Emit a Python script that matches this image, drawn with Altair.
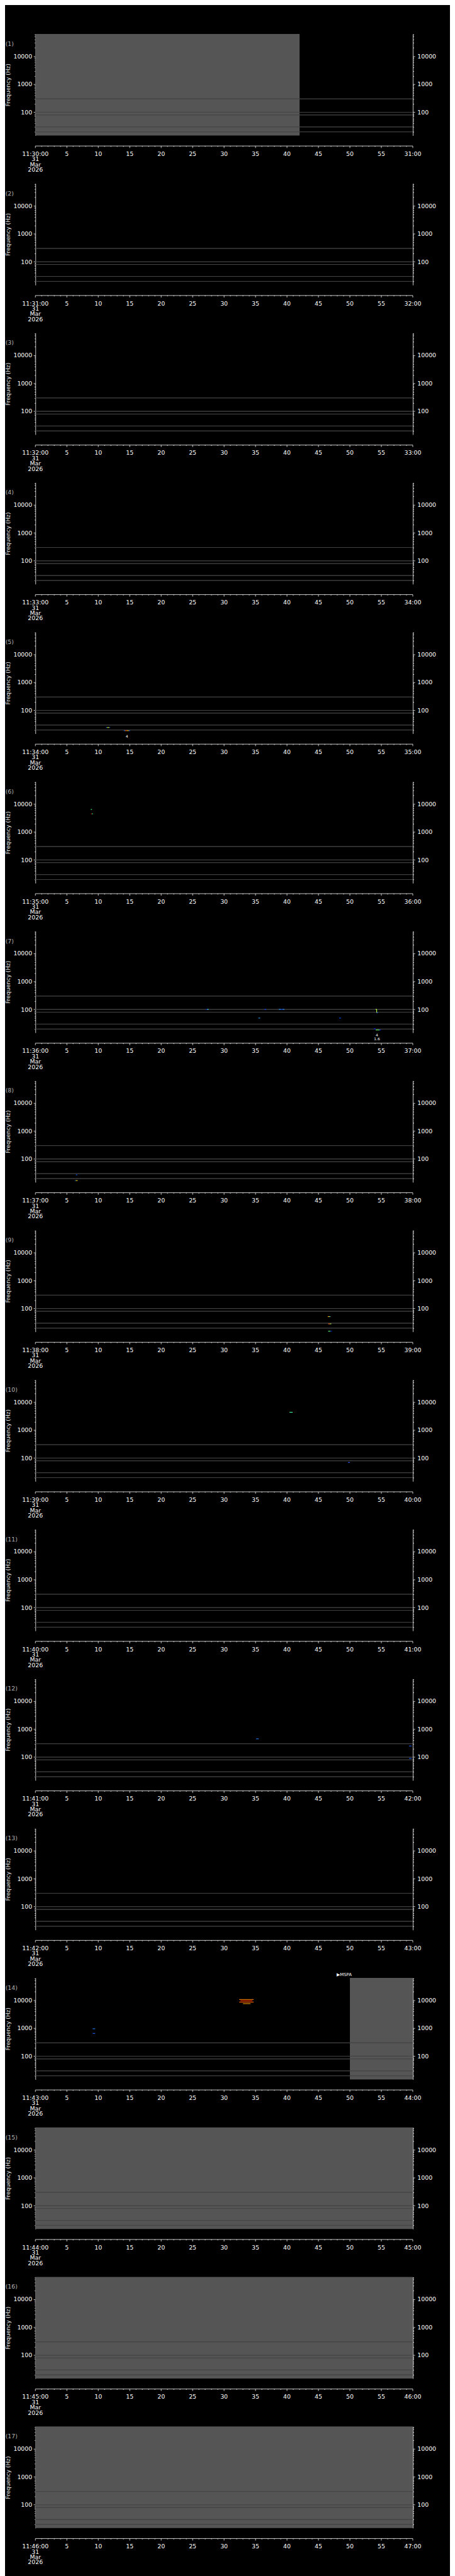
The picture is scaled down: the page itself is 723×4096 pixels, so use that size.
import altair as alt
import pandas as pd

# ---------------- sizes (reference px * 0.705) ----------------
S = 0.705
PLOT_W = 864.2 * S
PLOT_H = 232.7 * S
PITCH = 341.29 * S
AXIS_GAP = 24 * S          # time axis sits below the plot area
MAJOR_TICK = 3.2
MINOR_TICK = 1.4
LABEL_PAD = 4.8

# ---------------- axis definitions ----------------
TIME_DOMAIN = [0, 60]                 # seconds within each one-minute panel
FREQ_DOMAIN = [14.8, 62000]           # Hz, log scale
N_PANELS = 17
HOUR = 11
FIRST_MINUTE = 30
DATE_LINES = ["31", "Mar", "2026"]
X_MAJOR = list(range(0, 61, 5))
X_MINOR = [t for t in range(0, 61) if t % 5]
Y_MAJOR = [100, 1000, 10000]
Y_TICKS = ([20, 30, 40, 50, 60, 70, 80, 90]
           + [100, 200, 300, 400, 500, 600, 700, 800, 900]
           + [1000, 2000, 3000, 4000, 5000, 6000, 7000, 8000, 9000]
           + [10000, 20000, 30000, 40000, 50000, 60000])

# horizontal reference lines (Hz)
LINE_FREQS = [300, 100, 80, 30, 20]

# data gaps (grey blocks)
GAP_PANEL = [1, 14, 15, 16, 17]
GAP_T0 = [0, 50, 0, 0, 0]
GAP_T1 = [42, 60, 60, 60, 60]

# spectrogram detections (segments)
SEG_PANEL = [5, 5, 5, 5, 5, 5, 5,
             6, 6, 6,
             7, 7, 7, 7, 7, 7, 7, 7, 7, 7, 7, 7, 7, 7,
             8, 8, 8,
             9, 9, 9, 9, 9, 9,
             10, 10,
             12, 12, 12,
             14, 14, 14, 14, 14, 14]
SEG_T0 = [11.24, 11.40, 11.75, 14.07, 14.25, 14.60, 14.85,
          8.80, 8.80, 8.97,
          27.13, 27.34, 36.41, 38.70, 39.00, 39.30, 35.45, 48.30, 54.07, 54.26, 54.26, 53.80, 54.10, 54.70,
          6.44, 6.30, 6.44,
          46.48, 46.72, 46.55, 46.83, 46.55, 46.90,
          40.40, 49.70,
          35.10, 59.40, 59.40,
          32.40, 32.60, 32.40, 33.0, 9.10, 9.10]
SEG_T1 = [11.40, 11.75, 11.87, 14.25, 14.60, 14.85, 15.05,
          9.00, 8.97, 9.14,
          27.34, 27.54, 36.69, 39.00, 39.30, 39.60, 35.73, 48.58, 54.28, 54.26, 54.45, 54.10, 54.70, 54.90,
          6.66, 6.44, 6.71,
          46.72, 46.90, 46.83, 47.04, 46.90, 47.18,
          40.90, 50.00,
          35.50, 59.80, 59.80,
          34.70, 34.50, 34.70, 34.2, 9.50, 9.50]
SEG_F0 = [24.5, 24.5, 24.5, 18.9, 18.9, 18.9, 18.9,
          6310, 4414, 4414,
          101, 101, 101, 101, 101, 101, 49.3, 49.3, 101, 101, 76.5, 20.3, 18.5, 18.5,
          27.1, 17.0, 17.0,
          51.4, 51.4, 28.4, 28.4, 15.5, 15.5,
          4300, 70,
          450, 250, 90,
          10500, 9500, 8500, 7500, 950, 650]
SEG_F1 = [24.5, 24.5, 24.5, 18.9, 18.9, 18.9, 18.9,
          6310, 4414, 4414,
          101, 101, 101, 101, 101, 101, 49.3, 49.3, 101, 76.5, 76.5, 20.3, 18.5, 18.5,
          27.1, 17.0, 17.0,
          51.4, 51.4, 28.4, 28.4, 15.5, 15.5,
          4300, 70,
          450, 250, 90,
          10500, 9500, 8500, 7500, 950, 650]
SEG_COLOR = ["#1060ff", "#d8ff20", "#1060ff", "#2080ff", "#ff6000", "#ffe000", "#2060ff",
             "#40ff90", "#d00000", "#40ff80",
             "#0030ff", "#40ffd0", "#0040ff", "#2090ff", "#0040ff", "#2090ff", "#20a0ff", "#0050ff",
             "#b0ff40", "#b0ff40", "#2060ff", "#0020ff", "#60ff60", "#0030ff",
             "#0060ff", "#00a0ff", "#ffd000",
             "#ffb000", "#60ffa0", "#ff6020", "#c0ff40", "#60ff80", "#0020c0",
             "#40ffa0", "#3060ff",
             "#2080ff", "#2060ff", "#2060ff",
             "#ff8000", "#ff3000", "#ff6000", "#ffa000", "#2080ff", "#2060ff"]

# small white annotations under some detections
ANN_PANEL = [5, 7, 7]
ANN_T = [14.55, 54.3, 54.3]
ANN_F = [12.0, 12.3, 8.9]
ANN_TEXT = ["4", "4", "1.6"]

# label at top of panel 14
TAG_PANEL = [14]
TAG_T = [47.9]
TAG_TEXT = ["\u25b6MSPA"]

FONT = "DejaVu Sans"
WHITE = "#ffffff"

xscale = alt.Scale(domain=TIME_DOMAIN, nice=False, zero=False)
yscale = alt.Scale(type="log", domain=FREQ_DOMAIN, nice=False)
major_test = " || ".join(f"datum.value == {v}" for v in Y_MAJOR)


def x_labels(k):
    m = FIRST_MINUTE + k - 1
    out = []
    for t in X_MAJOR:
        if t == TIME_DOMAIN[0]:
            out.append("\n".join([f"{HOUR}:{m:02d}:00"] + DATE_LINES))
        elif t == TIME_DOMAIN[1]:
            out.append(f"{m + 1:02d}:00")
        else:
            out.append(str(t))
    return out


def y_axis(orient):
    kw = dict(orient=orient, values=Y_TICKS,
              labelExpr=f"({major_test}) ? '' + datum.value : ''",
              tickSize={"condition": {"test": major_test, "value": MAJOR_TICK}, "value": 1.7},
              domainColor=WHITE, tickColor=WHITE, labelColor=WHITE, domainWidth=0.8, tickWidth=0.8,
              labelFont=FONT, labelFontSize=9.5, labelOverlap=False, labelFlush=False, grid=False,
              labelPadding=2.4 if orient == "left" else 3.8)
    if orient == "left":
        kw.update(title="Frequency (Hz)", titleX=-44, titleY=PLOT_H / 2, titleAngle=270,
                  titleBaseline="middle", titleAlign="center", titleFont=FONT,
                  titleFontSize=9.2, titleFontWeight="normal", titleColor="#e8e8e8")
    else:
        kw.update(title=None)
    return alt.Axis(**kw)


def X(field):
    return alt.X(field, scale=xscale, axis=None)


def panel(k):
    layers = []
    ax_y = PLOT_H + AXIS_GAP

    gaps = pd.DataFrame({"t0": [a for p, a in zip(GAP_PANEL, GAP_T0) if p == k],
                         "t1": [b for p, b in zip(GAP_PANEL, GAP_T1) if p == k]})
    if len(gaps):
        gaps["fa"] = FREQ_DOMAIN[0]
        gaps["fb"] = FREQ_DOMAIN[1]
        layers.append(alt.Chart(gaps).mark_rect(color="#555555").encode(
            x=X("t0:Q"), x2="t1:Q",
            y=alt.Y("fa:Q", scale=yscale, axis=None), y2="fb:Q"))

    lines = pd.DataFrame({"f": LINE_FREQS})
    lines["t0"] = TIME_DOMAIN[0]
    lines["t1"] = TIME_DOMAIN[1]
    layers.append(alt.Chart(lines).mark_rule(color="#444444", strokeWidth=0.9).encode(
        x=X("t0:Q"), x2="t1:Q",
        y=alt.Y("f:Q", scale=yscale, axis=y_axis("left"))))
    layers.append(alt.Chart(lines).mark_rule(color="#444444", strokeWidth=0.9).encode(
        x=X("t0:Q"), x2="t1:Q",
        y=alt.Y("f:Q", scale=yscale, axis=y_axis("right"))))

    idx = [i for i, p in enumerate(SEG_PANEL) if p == k]
    if idx:
        seg = pd.DataFrame({"t0": [SEG_T0[i] for i in idx], "t1": [SEG_T1[i] for i in idx],
                            "f0": [SEG_F0[i] for i in idx], "f1": [SEG_F1[i] for i in idx],
                            "c": [SEG_COLOR[i] for i in idx]})
        layers.append(alt.Chart(seg).mark_rule(strokeWidth=1.1).encode(
            x=X("t0:Q"), x2="t1:Q",
            y=alt.Y("f0:Q", scale=yscale, axis=None), y2="f1:Q",
            color=alt.Color("c:N", scale=None)))

    aidx = [i for i, p in enumerate(ANN_PANEL) if p == k]
    if aidx:
        ann = pd.DataFrame({"t": [ANN_T[i] for i in aidx], "f": [ANN_F[i] for i in aidx],
                            "s": [ANN_TEXT[i] for i in aidx]})
        layers.append(alt.Chart(ann).mark_text(font=FONT, fontSize=6, color=WHITE,
                                               baseline="middle", align="center").encode(
            x=X("t:Q"), y=alt.Y("f:Q", scale=yscale, axis=None), text="s:N"))

    tidx = [i for i, p in enumerate(TAG_PANEL) if p == k]
    if tidx:
        tag = pd.DataFrame({"t": [TAG_T[i] for i in tidx], "s": [TAG_TEXT[i] for i in tidx]})
        tag["f"] = FREQ_DOMAIN[1]
        layers.append(alt.Chart(tag).mark_text(font=FONT, fontSize=7, color=WHITE,
                                               baseline="bottom", align="left", dy=-2).encode(
            x=X("t:Q"), y=alt.Y("f:Q", scale=yscale, axis=None), text="s:N"))

    # ---- time axis (drawn below the plot area) ----
    dom = pd.DataFrame({"t0": [TIME_DOMAIN[0]], "t1": [TIME_DOMAIN[1]]})
    layers.append(alt.Chart(dom).mark_rule(color=WHITE, strokeWidth=0.8).encode(
        x=X("t0:Q"), x2="t1:Q", y=alt.value(ax_y)))
    maj = pd.DataFrame({"t": X_MAJOR, "s": x_labels(k)})
    layers.append(alt.Chart(maj).mark_rule(color=WHITE, strokeWidth=0.8).encode(
        x=X("t:Q"), y=alt.value(ax_y), y2=alt.value(ax_y + MAJOR_TICK)))
    mnr = pd.DataFrame({"t": X_MINOR})
    layers.append(alt.Chart(mnr).mark_rule(color=WHITE, strokeWidth=0.8).encode(
        x=X("t:Q"), y=alt.value(ax_y), y2=alt.value(ax_y + MINOR_TICK)))
    layers.append(alt.Chart(maj).mark_text(font=FONT, fontSize=9.5, color=WHITE, align="center",
                                           baseline="top", lineBreak="\n", lineHeight=8.5).encode(
        x=X("t:Q"), y=alt.value(ax_y + MAJOR_TICK + LABEL_PAD), text="s:N"))

    lab = pd.DataFrame({"s": [f"({k})"]})
    layers.append(alt.Chart(lab).mark_text(font=FONT, fontSize=9.5, color="#b4b4b4",
                                           align="left", baseline="middle").encode(
        x=alt.value(-48.3), y=alt.value(16.2), text="s:N"))

    return alt.layer(*layers).resolve_axis(y="independent").properties(
        width=PLOT_W, height=PLOT_H)


panels = [panel(k) for k in range(1, N_PANELS + 1)]

chart = alt.vconcat(*panels, spacing=PITCH - PLOT_H, bounds="flush").properties(
    padding={"left": 0, "top": 8.9, "right": 22, "bottom": 20},
    background="#000000",
).configure_view(stroke=None)

chart.save("out.html", embed_options={"renderer": "svg", "actions": False})
